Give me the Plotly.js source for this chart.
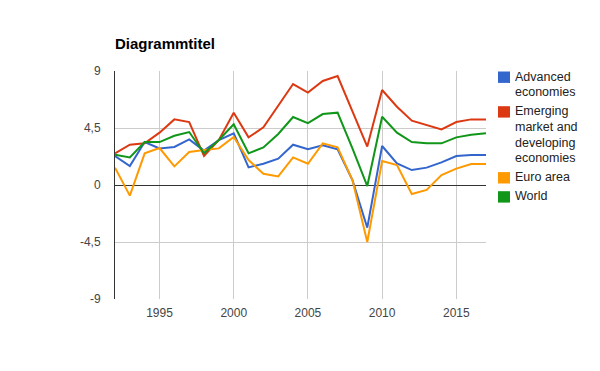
<!DOCTYPE html>
<html>
<head>
<meta charset="utf-8">
<script src="https://cdn.plot.ly/plotly-3.0.1.min.js"></script>
<style>html,body{margin:0;padding:0;background:#fff;}#chart{width:600px;height:371px;}</style>
</head>
<body>
<div id="chart"></div>
<script>
const years = [1992,1993,1994,1995,1996,1997,1998,1999,2000,2001,2002,2003,2004,2005,2006,2007,2008,2009,2010,2011,2012,2013,2014,2015,2016,2017];
const seriesNames = ["Advanced<br>economies", "Emerging<br>market and<br>developing<br>economies", "Euro area", "World"];
const advanced = [2.29,1.5,3.39,2.89,3.0,3.6,2.71,3.55,4.08,1.39,1.68,2.08,3.18,2.82,3.13,2.82,0.39,-3.37,3.08,1.71,1.18,1.37,1.79,2.29,2.37,2.37];
const emerging = [2.5,3.18,3.3,4.13,5.18,4.97,2.29,3.55,5.71,3.76,4.55,6.3,7.97,7.29,8.21,8.6,5.8,3.03,7.5,6.18,5.08,4.71,4.39,4.97,5.18,5.18];
const euro = [1.37,-0.84,2.5,2.92,1.47,2.6,2.76,2.89,3.79,1.97,0.89,0.68,2.18,1.68,3.29,2.97,0.39,-4.5,1.89,1.58,-0.71,-0.39,0.79,1.29,1.66,1.66];
const world = [2.39,2.18,3.39,3.39,3.89,4.18,2.5,3.55,4.79,2.5,2.97,4.03,5.37,4.89,5.6,5.71,2.9,-0.08,5.39,4.13,3.39,3.29,3.29,3.76,3.97,4.08];
const colors = ["#3366cc", "#dc3912", "#ff9900", "#109618"];
const yTicks = [-9, -4.5, 0, 4.5, 9];
const yTickText = ["-9", "-4,5", "0", "4,5", "9"];
const xTicks = [1995, 2000, 2005, 2010, 2015];

const W = 600, H = 371;
const M = {l: 115, r: 114, t: 71, b: 72};
const PW = W - M.l - M.r, PH = H - M.t - M.b;
const px2x = px => (px - M.l) / PW;
const py2y = py => (H - M.b - py) / PH;

const allSeries = [advanced, emerging, euro, world];
const traces = allSeries.map((vals, i) => ({
  type: 'scatter', mode: 'lines', x: years, y: vals, name: seriesNames[i].replace(/<br>/g, ' '),
  line: {color: colors[i], width: 2}, showlegend: false, hoverinfo: 'skip'
}));

// custom legend (square swatch aligned with first text line)
const shapes = [];
const annotations = [];
const lineH = 15.6;
let cy = 76.7;
seriesNames.forEach((name, i) => {
  const lines = name.split('<br>');
  shapes.push({type: 'rect', xref: 'paper', yref: 'paper',
    x0: px2x(498), x1: px2x(510), y0: py2y(cy - 5.2), y1: py2y(cy + 6.2),
    fillcolor: colors[i], line: {width: 0}});
  lines.forEach((ln, k) => {
    annotations.push({xref: 'paper', yref: 'paper', x: px2x(513), y: py2y(cy + k * lineH),
      xanchor: 'left', yanchor: 'middle', showarrow: false, text: ln,
      font: {size: 12.5, color: '#222', family: 'Liberation Sans, Arial, sans-serif'}});
  });
  cy += lines.length * lineH + 3.5;
});

const layout = {
  width: W, height: H,
  margin: M,
  paper_bgcolor: '#fff', plot_bgcolor: '#fff',
  separators: ',.',
  font: {family: 'Liberation Sans, Arial, sans-serif', color: '#444', size: 12},
  title: {text: '<b>Diagrammtitel</b>', font: {size: 15, color: '#000', family: 'Liberation Sans, Arial, sans-serif'},
    x: 0, xanchor: 'left', xref: 'paper', y: 1 - 44/371, yanchor: 'middle', yref: 'container'},
  showlegend: false,
  shapes: shapes,
  annotations: annotations,
  xaxis: {range: [1992, 2017], tickvals: xTicks, ticktext: xTicks.map(String), showgrid: true,
    gridcolor: '#cccccc', gridwidth: 1, zeroline: false, showline: false, ticks: '',
    ticklabelstandoff: 5, tickfont: {size: 12, color: '#444'}, fixedrange: true},
  yaxis: {range: [-9, 9], tickvals: yTicks, ticktext: yTickText, showgrid: true, gridcolor: '#cccccc', gridwidth: 1,
    zeroline: true, zerolinecolor: '#333', zerolinewidth: 1, showline: true, linecolor: '#333', linewidth: 1,
    ticks: '', ticklabelstandoff: 11, tickfont: {size: 12, color: '#444'}, fixedrange: true},
};
Plotly.newPlot('chart', traces, layout, {displayModeBar: false, staticPlot: true});
</script>
</body>
</html>
